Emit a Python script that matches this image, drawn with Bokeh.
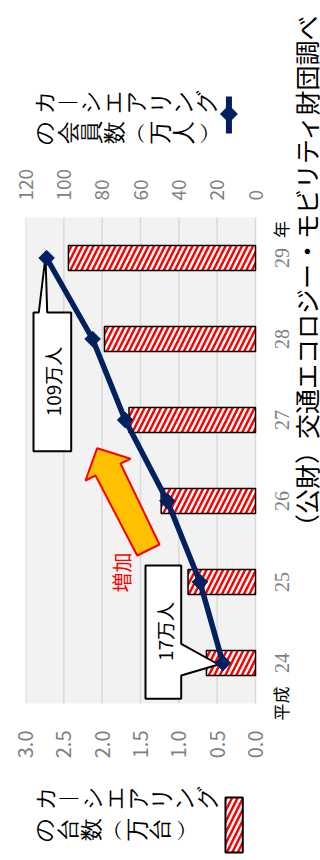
import math
from bokeh.plotting import figure
from bokeh.models import (Range1d, LinearAxis, FixedTicker, Label, LabelSet,
                          NumeralTickFormatter, ColumnDataSource)
from bokeh.layouts import row, column
from bokeh.embed import file_html
from bokeh.resources import INLINE

# ---- data ----
years = ["24", "25", "26", "27", "28", "29"]
vehicles = [0.64, 0.88, 1.23, 1.65, 1.97, 2.44]      # 万台
members = [17, 29, 46, 68, 85, 109]                  # 万人
vehicle_ticks = [0, 0.5, 1.0, 1.5, 2.0, 2.5, 3.0]
member_ticks = [0, 20, 40, 60, 80, 100, 120]

FONT = "Noto Sans CJK JP"
NAVY = "#002060"
GRAY = "#7f7f7f"
RED = "#ff0000"
ROT = math.pi / 2
HATCH = dict(hatch_pattern="/", hatch_color=RED, hatch_weight=2.5, hatch_scale=11)

idx = list(range(len(years)))
n = len(years)

# ---- geometry (page pixels) ----
PLOT_L, PLOT_R, PLOT_T, PLOT_B = 25, 255, 217, 703      # grey plot area
FRAME_R, FRAME_T, FRAME_B = 257, 205, 722               # drawable frame of main figure
MAIN_W, PAGE_W, PAGE_H = 268, 320, 856
VPX = (PLOT_R - PLOT_L) / vehicle_ticks[-1]             # px per 万台
MPX = (PLOT_R - PLOT_L) / member_ticks[-1]              # px per 万人
CPX = (PLOT_B - PLOT_T) / n                             # px per category

def dx(px):
    return (PLOT_R - px) / VPX

def dy(py):
    return (PLOT_B - py) / CPX - 0.5

# ---------------- main chart ----------------
p = figure(frame_width=FRAME_R - PLOT_L, frame_height=FRAME_B - FRAME_T,
           min_border_left=PLOT_L, min_border_right=MAIN_W - FRAME_R,
           min_border_top=FRAME_T - 150, min_border_bottom=770 - FRAME_B,
           x_range=Range1d(vehicle_ticks[-1], dx(FRAME_R)),
           y_range=Range1d(dy(FRAME_B), dy(FRAME_T)),
           x_axis_location="below", y_axis_location=None,
           output_backend="svg", toolbar_location=None)
p.title.visible = False
p.background_fill_color = "white"
p.border_fill_color = "white"
p.outline_line_color = None
p.grid.visible = False
p.extra_x_ranges = {"members": Range1d(member_ticks[-1], -(FRAME_R - PLOT_R) / MPX)}

top_axis = LinearAxis(x_range_name="members", ticker=FixedTicker(ticks=member_ticks))
p.add_layout(top_axis, "above")
bottom_axis = p.below[0]
bottom_axis.ticker = FixedTicker(ticks=vehicle_ticks)
bottom_axis.formatter = NumeralTickFormatter(format="0.0")

for ax, fs, so in ((bottom_axis, "20px", 8), (top_axis, "19px", 5)):
    ax.axis_line_color = None
    ax.major_tick_line_color = None
    ax.minor_tick_line_color = None
    ax.major_tick_out = 0
    ax.major_tick_in = 0
    ax.major_label_orientation = ROT
    ax.major_label_text_font = FONT
    ax.major_label_text_font_size = fs
    ax.major_label_text_color = GRAY
    ax.major_label_standoff = so

# grey plot area and vertical grid lines
p.quad(left=vehicle_ticks[-1], right=0, bottom=-0.5, top=n - 0.5,
       fill_color="#f2f2f2", line_color=None)
p.segment(x0=vehicle_ticks, x1=vehicle_ticks, y0=-0.5, y1=n - 0.5,
          line_color="#d9d9d9", line_width=1.5)

# bars (vehicles)
p.hbar(y=idx, left=0, right=vehicles, height=0.31, fill_color="white",
       line_color="black", line_width=1.5, **HATCH)

# arrow (増加)
arrow_px = [(96.7, 447.7), (130, 458.3), (120, 463), (159, 544), (136.7, 555), (95, 475), (85, 480)]
p.patch([dx(a) for a, b in arrow_px], [dy(b) for a, b in arrow_px],
        fill_color="#ffc000", line_color=RED, line_width=2)

# callouts
c109 = [(33, 312), (38.3, 312), (45, 256), (46.7, 312), (70.7, 312), (70.7, 450.7), (33, 450.7)]
c17 = [(145, 565), (180.7, 565), (180.7, 643.3), (218, 664), (180.7, 675), (180.7, 698.3), (145, 698.3)]
for c in (c109, c17):
    p.patch([dx(a) for a, b in c], [dy(b) for a, b in c], fill_color="white",
            line_color="black", line_width=2)

# members line + markers
p.line(x=members, y=idx, x_range_name="members", line_color=NAVY, line_width=5.5)
p.scatter(x=members, y=idx, x_range_name="members", marker="square", angle=math.pi / 4,
          size=11, fill_color=NAVY, line_color=NAVY)

def lab(fig, x, y, text, size, color="black"):
    fig.add_layout(Label(x=x, y=y, text=text, angle=ROT, text_align="center",
                         text_baseline="middle", text_font=FONT, text_font_size=size,
                         text_color=color))

lab(p, dx(52), dy(381), "109万人", "19px")
lab(p, dx(164), dy(631), "17万人", "19px")
lab(p, dx(121), dy(572), "増加", "20px", color=RED)

# ---------------- helper figures ----------------
def blank(x0, x1, y0, y1, y_range=None):
    f = figure(width=x1 - x0, height=y1 - y0, x_range=Range1d(x0, x1),
               y_range=y_range if y_range is not None else Range1d(-y1, -y0),
               x_axis_type=None, y_axis_type=None, min_border=0,
               output_backend="svg", toolbar_location=None)
    f.title.visible = False
    f.outline_line_color = None
    f.grid.visible = False
    f.background_fill_color = "white"
    return f

top_fig = blank(0, MAIN_W, 0, 150)
bot_fig = blank(0, MAIN_W, 770, PAGE_H)
# right strip shares the category scale of the main chart
side = blank(MAIN_W, PAGE_W, 0, PAGE_H, y_range=Range1d(dy(PAGE_H), dy(0)))

# category labels (year axis)
side.add_layout(LabelSet(x=281, y="y", text="text",
                         source=ColumnDataSource(dict(y=idx, text=years)),
                         angle=ROT, text_align="center", text_baseline="middle",
                         text_font=FONT, text_font_size="20px", text_color=GRAY))
lab(side, 279.5, dy(703), "平成", "17px")
lab(side, 279.5, dy(229), "年", "17px")

# source note
lab(side, 305, dy(276), "（公財）交通エコロジー・モビリティ財団調べ", "25px")

# vertical (tategaki) legend text: one rotated glyph per character
def tate(fig, x0, y, text, size="23px", pitch=26.7):
    chars = list(text)
    src = ColumnDataSource(dict(x=[x0 + i * pitch for i in range(len(chars))],
                                y=[y] * len(chars), t=chars))
    fig.add_layout(LabelSet(x="x", y="y", text="t", source=src, angle=ROT,
                            text_align="center", text_baseline="middle",
                            text_font=FONT, text_font_size=size, text_color="black"))

# legend (members)
leg_a1 = "カ︱シエアリング"
leg_a2 = "の会員数︵万人︶"
tate(top_fig, 22, -101, leg_a1)
tate(top_fig, 22.5, -132, leg_a2)
top_fig.line(x=[235, 235], y=[-96, -133], line_color=NAVY, line_width=6)
top_fig.scatter(x=[235], y=[-113.5], marker="square", angle=math.pi / 4, size=12,
                fill_color=NAVY, line_color=NAVY)

# legend (vehicles)
leg_b1 = "カ︱シエアリング"
leg_b2 = "の台数︵万台︶"
tate(bot_fig, 23.5, -797, leg_b1)
tate(bot_fig, 22.5, -829, leg_b2)
bot_fig.quad(left=231, right=251, top=-797, bottom=-852, fill_color="white",
             line_color="black", line_width=2, **HATCH)

layout = row(column(top_fig, p, bot_fig), side)
open("out.html", "w").write(file_html(layout, INLINE))
